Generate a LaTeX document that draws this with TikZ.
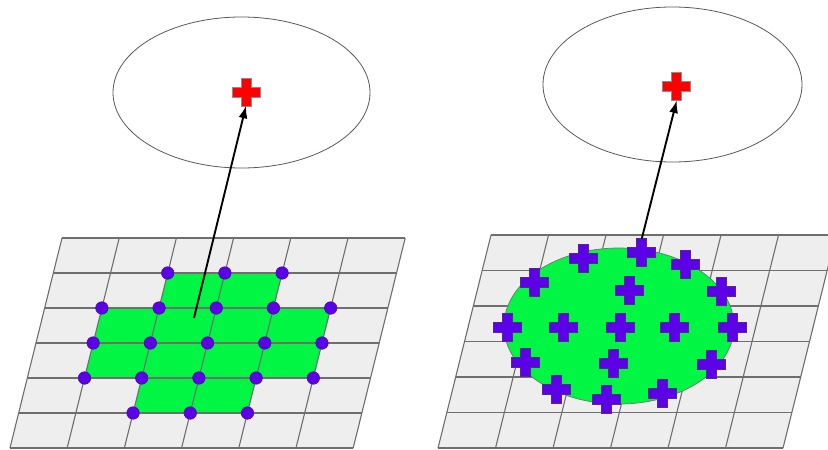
\documentclass[tikz,border=0pt]{standalone}
\usetikzlibrary{arrows.meta,shapes.geometric}
\definecolor{gridfill}{HTML}{EEEEEE}
\definecolor{gridline}{HTML}{6E6E6E}
\definecolor{greenfill}{RGB}{0,246,66}
\definecolor{purplefill}{RGB}{92,0,232}
\definecolor{purpleline}{RGB}{70,20,150}
\definecolor{redfill}{RGB}{255,0,0}
\tikzset{
  gridbg/.style={fill=gridfill},
  gridln/.style={draw=gridline,line width=1.1pt},
  greenarea/.style={fill=greenfill},
  dot/.style={circle,fill=purplefill,draw=purpleline,line width=0.6pt,minimum size=12.5pt,inner sep=0pt},
  bigellipse/.style={ellipse,draw=black!65,line width=0.8pt,inner sep=0pt},
  greenellipse/.style={ellipse,fill=greenfill,draw=black!55,line width=0.7pt,inner sep=0pt},
  redplus/.style={fill=redfill,draw=black!45,line width=0.6pt},
  purpleplus/.style={fill=purplefill,draw=purpleline!80!gray,line width=0.6pt},
  arrowln/.style={draw=black,line width=1.9pt,-{Latex[length=12.5pt,width=9pt]}},
  plusshape/.pic={
    \path[pic actions] (-5,-14) -- (5,-14) -- (5,-5) -- (14,-5) -- (14,5) -- (5,5) -- (5,14) -- (-5,14) -- (-5,5) -- (-14,5) -- (-14,-5) -- (-5,-5) -- cycle;
    \node[inner sep=0pt,minimum width=28pt,minimum height=27pt] (-box) at (0,0) {};
  }
}
\begin{document}
\begin{tikzpicture}[x=1pt,y=-1pt]
\useasboundingbox (0,0) rectangle (828,450);
\fill[white] (0,0) rectangle (828,450);

% top ellipses
\node[bigellipse,minimum width=257pt,minimum height=151pt] (e1) at (241.5,92.5) {};
\node[bigellipse,minimum width=259pt,minimum height=155pt] (e2) at (672.5,84.5) {};

% ---------------- left grid ----------------
\begin{scope}[shift={(62,238)},x={(57.2pt,0pt)},y={(-8.67pt,-35pt)}]
  \fill[gridbg] (0,0) -- (6,0) -- (6,6) -- (0,6) -- cycle;
  \fill[greenarea] (2,1) -- (4,1) -- (4,2) -- (5,2) -- (5,4) -- (4,4) -- (4,5) -- (2,5) -- (2,4) -- (1,4) -- (1,2) -- (2,2) -- cycle;
  \foreach \k in {0,...,6} {
    \draw[gridln] (\k,0) -- (\k,6);
    \draw[gridln] (0,\k) -- (6,\k);
  }
  \foreach \i/\j in {2/1,3/1,4/1,
                     1/2,2/2,3/2,4/2,5/2,
                     1/3,2/3,3/3,4/3,5/3,
                     1/4,2/4,3/4,4/4,5/4,
                     2/5,3/5,4/5} {
    \node[dot] (d\i\j) at (\i,\j) {};
  }
  \coordinate (lstart) at (2.654,2.286);
\end{scope}

% ---------------- right grid ----------------
\begin{scope}
  \clip (0,0) rectangle (828,450);
  \begin{scope}[shift={(491,235)},x={(57.5pt,0pt)},y={(-8.83pt,-35.5pt)}]
    \fill[gridbg] (0,0) -- (6,0) -- (6,6) -- (0,6) -- cycle;
    \foreach \k in {0,...,6} {
      \draw[gridln] (\k,0) -- (\k,6);
      \draw[gridln] (0,\k) -- (6,\k);
    }
  \end{scope}
\end{scope}

\node[greenellipse,minimum width=230pt,minimum height=156pt] (g2) at (619,326) {};

\foreach \n/\px/\py in {1/583.7/258.3, 2/641.7/252.7, 3/685.3/264.3,
                        4/534.7/282.3, 5/629.3/290.0, 6/721.0/291.7,
                        7/507.7/327.3, 8/563.3/327.3, 9/620.3/327.3,
                        10/674.3/327.3, 11/732.7/327.3,
                        12/525.3/362.7, 13/613.7/363.3, 14/711.0/364.0,
                        15/556.7/389.3, 16/606.3/399.3, 17/662.7/393.3} {
  \pic[purpleplus] (pp\n) at (\px,\py) {plusshape};
}

% red crosses
\pic[redplus] (rc1) at (246,92) {plusshape};
\pic[redplus] (rc2) at (676.7,86.7) {plusshape};

% arrows
\draw[arrowln] (lstart) -- (rc1-box.south);
\draw[arrowln] (pp2-box.north) -- (rc2-box.south);
\end{tikzpicture}
\end{document}
